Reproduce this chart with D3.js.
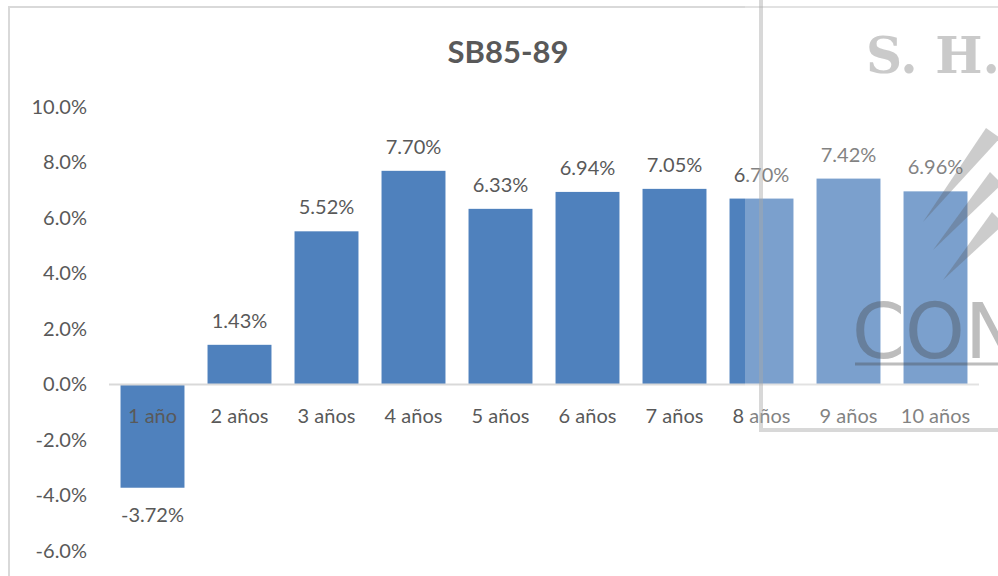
<!DOCTYPE html>
<html>
<head>
<meta charset="utf-8">
<script src="https://cdn.jsdelivr.net/npm/d3@7"></script>
<style>
  html, body { margin: 0; padding: 0; background: #fff; }
  svg { display: block; font-family: Lato, "Open Sans", sans-serif; }
</style>
</head>
<body>
<div id="chart"></div>
<script>
// ── datos ──────────────────────────────────────────────
const titulo     = 'SB85-89';
const categorias = ['1 año', '2 años', '3 años', '4 años', '5 años', '6 años', '7 años', '8 años', '9 años', '10 años'];
const valores    = [-3.72, 1.43, 5.52, 7.70, 6.33, 6.94, 7.05, 6.70, 7.42, 6.96];
const ticksY     = [-6, -4, -2, 0, 2, 4, 6, 8, 10];

const W = 998, H = 576;
const GRIS = '#595959';

// formato con guion normal (d3 usa el signo menos unicode)
const pct = dec => d => d3.format('.' + dec + 'f')(d).replace('\u2212', '-') + '%';

const svg = d3.select('#chart').append('svg')
  .attr('width', W).attr('height', H);

// marco del gráfico
svg.append('path')
  .attr('d', `M9,${H} V7 H${W}`)
  .attr('fill', 'none').attr('stroke', '#d9d9d9').attr('stroke-width', 2);

// título
svg.append('text')
  .attr('x', 508).attr('y', 63)
  .attr('text-anchor', 'middle')
  .attr('font-size', 31).attr('font-weight', 700)
  .attr('fill', GRIS)
  .text(titulo);

// ── escalas ──
const x = d3.scaleBand()
  .domain(categorias)
  .range([109, 979])
  .paddingInner(0.265)
  .paddingOuter(0.1325);

const y = d3.scaleLinear()
  .domain([-6, 10])
  .range([551, 107]);

// eje Y (solo etiquetas)
const ejeY = svg.append('g')
  .attr('transform', 'translate(87,0)')
  .call(d3.axisLeft(y).tickValues(ticksY).tickSize(0).tickPadding(0)
    .tickFormat(pct(1)));
ejeY.select('.domain').remove();
ejeY.selectAll('text')
  .attr('font-size', 20).attr('fill', GRIS)
  .attr('font-family', 'Lato, sans-serif');

// barras
svg.append('g').selectAll('rect')
  .data(valores)
  .join('rect')
  .attr('x', (d, i) => x(categorias[i]))
  .attr('width', x.bandwidth())
  .attr('y', d => y(Math.max(0, d)))
  .attr('height', d => Math.abs(y(d) - y(0)))
  .attr('fill', '#4f81bd');

// línea del cero
svg.append('line')
  .attr('x1', 109).attr('x2', 979)
  .attr('y1', y(0)).attr('y2', y(0))
  .attr('stroke', '#d9d9d9').attr('stroke-width', 2);

// etiquetas de categoría
const ejeX = svg.append('g')
  .attr('transform', `translate(0,${y(0)})`)
  .call(d3.axisBottom(x).tickSize(0).tickPadding(0));
ejeX.select('.domain').remove();
ejeX.selectAll('text')
  .attr('dy', 0).attr('y', 38)
  .attr('font-size', 20).attr('fill', GRIS)
  .attr('font-family', 'Lato, sans-serif');

// etiquetas de datos
svg.append('g').selectAll('text')
  .data(valores)
  .join('text')
  .attr('x', (d, i) => x(categorias[i]) + x.bandwidth() / 2)
  .attr('y', d => d >= 0 ? y(d) - 17 : y(d) + 34)
  .attr('text-anchor', 'middle')
  .attr('font-size', 20).attr('fill', GRIS)
  .text(pct(2));

// ── marca de agua (sello escaneado encima del gráfico) ──
const wm = svg.append('g');
wm.append('rect')
  .attr('x', 745).attr('y', 0).attr('width', W - 745).attr('height', 437)
  .attr('fill', '#fff').attr('opacity', 0.25);
wm.append('path')
  .attr('d', `M761,0 V430 H${W}`)
  .attr('fill', 'none').attr('stroke', '#a8a8a8').attr('stroke-width', 4)
  .attr('opacity', 0.45);
wm.append('text')
  .attr('x', 866).attr('y', 73)
  .attr('font-family', '"DejaVu Serif", serif').attr('font-weight', 700)
  .attr('font-size', 50).attr('fill', '#b5b5b5').attr('opacity', 0.7)
  .text('S. H.');
// trazos diagonales del logo
const trazos = [
  'M923,222 L986,128 L1000,138 Z',
  'M933,250 L990,172 L1002,184 Z',
  'M943,280 L992,212 L1004,224 Z'
];
wm.selectAll('path.trazo').data(trazos).join('path')
  .attr('class', 'trazo').attr('d', d => d)
  .attr('fill', '#555').attr('opacity', 0.3);
wm.append('text')
  .attr('x', 852).attr('y', 358)
  .attr('font-family', '"DejaVu Sans", sans-serif')
  .attr('font-size', 76).attr('fill', '#444').attr('opacity', 0.35)
  .text('CON');
wm.append('line')
  .attr('x1', 855).attr('x2', W).attr('y1', 364).attr('y2', 364)
  .attr('stroke', '#444').attr('stroke-width', 3).attr('opacity', 0.35);
</script>
</body>
</html>
